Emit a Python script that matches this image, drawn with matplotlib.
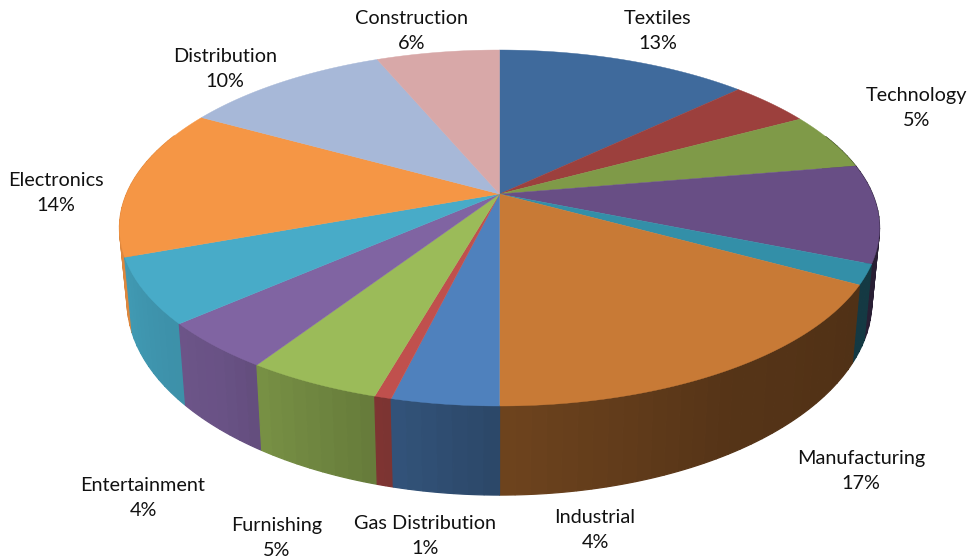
import numpy as np
import matplotlib
matplotlib.use("Agg")
import matplotlib.pyplot as plt
from matplotlib.patches import Polygon

# Data: share of each slice, clockwise from 12 o'clock
slice_names = ["Textiles", "", "Technology", "", "", "Manufacturing", "Industrial",
               "Gas Distribution", "Furnishing", "Entertainment", "",
               "Electronics", "Distribution", "Construction"]
slice_values = [12.9, 4.2, 5.2, 8.9, 1.8, 17.0, 3.8, 0.6, 4.8, 4.3, 5.9, 13.7, 10.6, 6.3]
slice_labels = ["13%", "", "5%", "", "", "17%", "4%", "1%", "5%", "4%", "", "14%", "10%", "6%"]
slice_colors = ["#3F6A9C", "#9C403D", "#7F9A48", "#684E85", "#338FA8", "#C87A36", "#4F81BD",
                "#C0504D", "#9BBB59", "#8064A2", "#48ABC8", "#F59645", "#A7B8D8", "#D8A8A8"]
label_xy = [(658, 31), None, (917, 108), None, None, (861, 471), (595, 530),
            (425, 536), (277, 538), (143, 498), None, (56, 193), (225, 69), (412, 31)]

# Projection of the pie (layout)
CX, CY, A, B, K = 499.5, 194.0, 373.0, 171.5, 0.191
SX, SY, DY = 0.98, 1.09, 70.0


def top_rim(t):
    u, v = np.sin(t), np.cos(t)
    return CX + A * u / (1 + K * v), CY - B * v / (1 + K * v)


def low_rim(t):
    x, y = top_rim(t)
    return CX + SX * (x - CX), CY + DY + SY * (y - CY)


def shade(t):
    d = np.degrees(t)
    return np.interp(d, [90, 120, 150, 180, 190, 205, 220, 250, 280],
                     [.38, .40, .43, .55, .62, .72, .82, .90, .92])


fig = plt.figure(figsize=(9.67, 5.6), dpi=100)
ax = fig.add_axes([0, 0, 1, 1])
ax.set_xlim(0, 967)
ax.set_ylim(560, 0)
ax.axis("off")

fractions = np.array(slice_values) / sum(slice_values)
edges = np.concatenate([[0], np.cumsum(fractions)]) * 2 * np.pi

# Side walls: each slice in a few flat bands, far bands first
strips = []
for i, col in enumerate(slice_colors):
    n = max(2, int(np.degrees(edges[i + 1] - edges[i]) / 2) + 1)
    ts = np.linspace(edges[i], edges[i + 1], n + 1)
    for a, b in zip(ts[:-1], ts[1:]):
        if np.cos((a + b) / 2) < 0.35:
            strips.append((np.cos((a + b) / 2), a, b, col))
strips.sort(key=lambda s: -s[0])
for _, a, b, col in strips:
    tt = np.linspace(a, b, 6)
    xt, yt = top_rim(tt)
    xl, yl = low_rim(tt)
    c = np.clip(np.array(matplotlib.colors.to_rgb(col)) * shade((a + b) / 2), 0, 1)
    ax.add_patch(Polygon(np.c_[np.r_[xt, xl[::-1]], np.r_[yt, yl[::-1]]],
                         closed=True, facecolor=c, edgecolor=c, lw=0.9))

# Top face
for i, col in enumerate(slice_colors):
    ts = np.linspace(edges[i], edges[i + 1], 80)
    x, y = top_rim(ts)
    ax.add_patch(Polygon(np.c_[np.r_[CX, x], np.r_[CY, y]], closed=True,
                         facecolor=col, edgecolor=col, lw=0.3, zorder=3))

# Labels
for name, lab, xy in zip(slice_names, slice_labels, label_xy):
    if xy:
        ax.text(xy[0], xy[1], name + "\n" + lab, ha="center", va="center",
                family=["Lato", "DejaVu Sans"], fontsize=14.3, color="#111111",
                linespacing=1.55, zorder=5)

fig.savefig("out.png", dpi=100, facecolor="white")
